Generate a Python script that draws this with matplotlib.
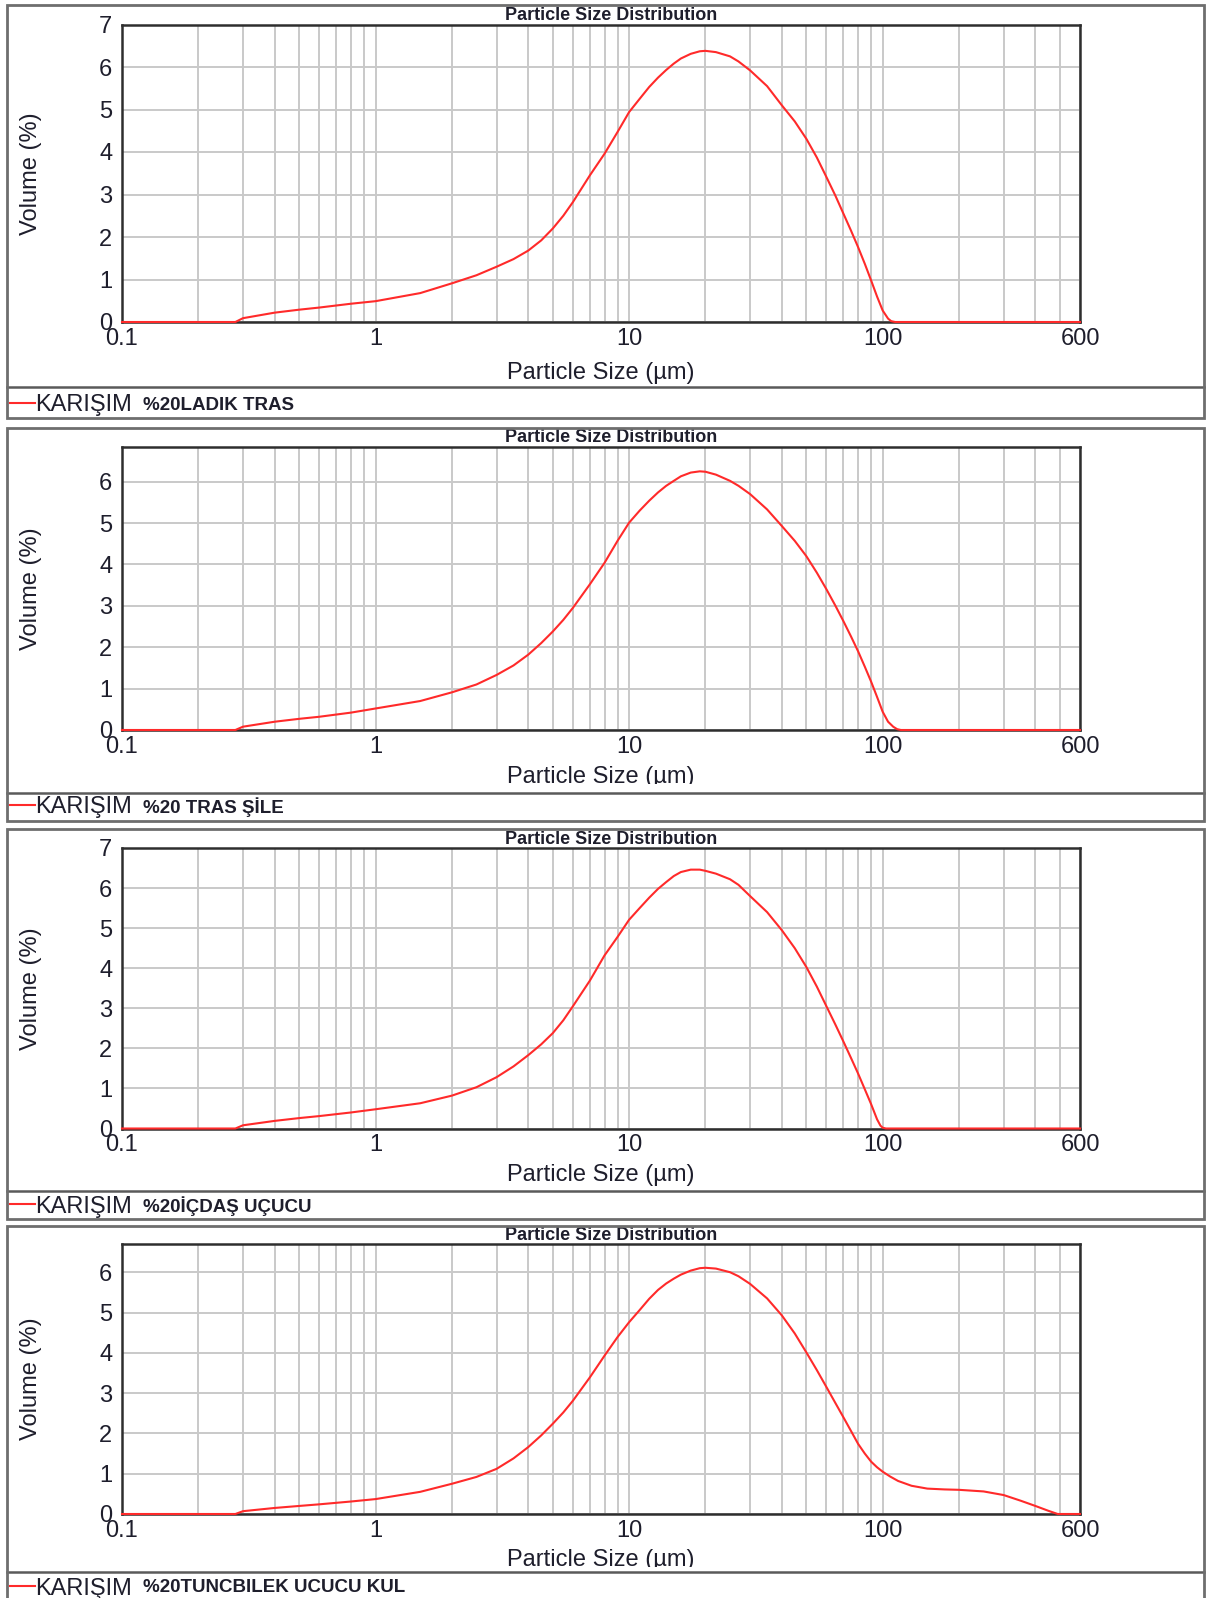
import matplotlib

matplotlib.use("Agg")
import matplotlib.pyplot as plt
from matplotlib.lines import Line2D
from matplotlib.patches import Rectangle
from matplotlib.ticker import FixedLocator, LogLocator, NullFormatter


SIZES_1 = [0.1, 0.28, 0.3, 0.4, 0.5, 0.6, 0.8, 1, 1.5, 2, 2.5, 3, 3.5, 4, 4.5, 5, 5.5, 6,
           7, 8, 9, 10, 11, 12, 13, 14, 15, 16, 17.5, 19, 20, 22, 25, 27, 30, 35, 40, 45,
           50, 55, 60, 65, 70, 75, 80, 85, 90, 95, 100, 105, 108, 112, 600]
VOL_1 = [0, 0, 0.09, 0.22, 0.29, 0.34, 0.43, 0.49, 0.68, 0.91, 1.1, 1.3, 1.48, 1.68, 1.92,
         2.2, 2.5, 2.82, 3.45, 3.96, 4.47, 4.94, 5.25, 5.53, 5.75, 5.93, 6.08, 6.2, 6.31,
         6.37, 6.38, 6.35, 6.25, 6.13, 5.92, 5.55, 5.1, 4.72, 4.31, 3.87, 3.41, 2.98, 2.55,
         2.15, 1.76, 1.37, 0.98, 0.6, 0.27, 0.08, 0.02, 0, 0]

SIZES_2 = [0.1, 0.28, 0.3, 0.4, 0.5, 0.6, 0.8, 1, 1.5, 2, 2.5, 3, 3.5, 4, 4.5, 5, 5.5, 6,
           7, 8, 9, 10, 11, 12, 13, 14, 15, 16, 17.5, 19, 20, 22, 25, 27, 30, 35, 40, 45,
           50, 55, 60, 65, 70, 75, 80, 85, 90, 95, 100, 105, 110, 114, 118, 600]
VOL_2 = [0, 0, 0.08, 0.2, 0.27, 0.32, 0.42, 0.52, 0.7, 0.91, 1.1, 1.33, 1.56, 1.82, 2.1,
         2.38, 2.66, 2.95, 3.52, 4.04, 4.57, 5.01, 5.3, 5.54, 5.74, 5.9, 6.02, 6.13, 6.22,
         6.25, 6.24, 6.17, 6.02, 5.9, 5.7, 5.33, 4.93, 4.57, 4.2, 3.8, 3.4, 3.01, 2.63,
         2.26, 1.9, 1.53, 1.17, 0.8, 0.44, 0.2, 0.08, 0.02, 0, 0]

SIZES_3 = [0.1, 0.28, 0.3, 0.4, 0.5, 0.6, 0.8, 1, 1.5, 2, 2.5, 3, 3.5, 4, 4.5, 5, 5.5, 6,
           7, 8, 9, 10, 11, 12, 13, 14, 15, 16, 17.5, 19, 20, 22, 25, 27, 30, 35, 40, 45,
           50, 55, 60, 65, 70, 75, 80, 85, 90, 95, 98, 100, 103, 600]
VOL_3 = [0, 0, 0.08, 0.19, 0.26, 0.31, 0.4, 0.48, 0.63, 0.82, 1.03, 1.28, 1.55, 1.83, 2.1,
         2.38, 2.7, 3.05, 3.69, 4.32, 4.78, 5.21, 5.5, 5.76, 5.98, 6.15, 6.3, 6.4, 6.46,
         6.46, 6.43, 6.36, 6.22, 6.08, 5.8, 5.4, 4.95, 4.5, 4.03, 3.54, 3.05, 2.6, 2.17,
         1.76, 1.37, 0.98, 0.61, 0.23, 0.07, 0.02, 0, 0]

SIZES_4 = [0.1, 0.28, 0.3, 0.4, 0.5, 0.6, 0.8, 1, 1.5, 2, 2.5, 3, 3.5, 4, 4.5, 5, 5.5, 6,
           7, 8, 9, 10, 11, 12, 13, 14, 15, 16, 17.5, 19, 20, 22, 25, 27, 30, 35, 40, 45,
           50, 55, 60, 65, 70, 75, 80, 85, 90, 95, 100, 107, 115, 130, 150, 175, 200, 250,
           300, 350, 400, 450, 490, 600]
VOL_4 = [0, 0, 0.07, 0.15, 0.2, 0.24, 0.31, 0.37, 0.55, 0.75, 0.92, 1.12, 1.38, 1.66, 1.95,
         2.24, 2.52, 2.81, 3.39, 3.93, 4.39, 4.76, 5.06, 5.34, 5.56, 5.72, 5.84, 5.94, 6.04,
         6.1, 6.11, 6.09, 6.0, 5.9, 5.71, 5.35, 4.93, 4.48, 4.01, 3.57, 3.15, 2.76, 2.4,
         2.06, 1.74, 1.5, 1.3, 1.16, 1.05, 0.93, 0.82, 0.7, 0.63, 0.61, 0.6, 0.56, 0.47,
         0.33, 0.2, 0.08, 0, 0]

SAMPLE_NAMES = ["%20LADIK TRAS", "%20 TRAS ŞİLE", "%20İÇDAŞ UÇUCU", "%20TUNCBILEK UCUCU KUL"]
Y_MAX = [7, 6.85, 7, 6.7]

X_TICKS = [0.1, 1, 10, 100, 600]
X_TICK_LABELS = ["0.1", "1", "10", "100", "600"]

W, H = 1206, 1598

# pixel layout of each report block
PANELS = [
    dict(top=5, sep=387, bottom=418, ptop=24.5, pbot=322, title=16, xlab=373, clip=None, leg=403),
    dict(top=428, sep=793, bottom=821, ptop=446.5, pbot=730, title=438, xlab=777, clip=784, leg=805),
    dict(top=829, sep=1191, bottom=1219, ptop=848, pbot=1128.5, title=840, xlab=1175, clip=None, leg=1204),
    dict(top=1226, sep=1572, bottom=1600, ptop=1244, pbot=1514, title=1235.5, xlab=1560, clip=1567, leg=1586),
]
PLOT_LEFT, PLOT_RIGHT = 122, 1080
FRAME_LEFT, FRAME_RIGHT = 7, 1204

TEXT_COLOR = "#1e1e2c"
CURVE_COLOR = "#ff2a2a"


def fx(px):
    return px / W


def fy(py):
    return 1 - py / H


def draw_panel(fig, p, sizes, vols, name, ymax):
    # outer frame and legend strip
    fig.patches.append(Rectangle((fx(FRAME_LEFT), fy(p["bottom"])),
                                 fx(FRAME_RIGHT - FRAME_LEFT), (p["bottom"] - p["top"]) / H,
                                 transform=fig.transFigure, fill=False,
                                 edgecolor="#6e6e6e", linewidth=2, zorder=6))
    fig.lines.append(Line2D([fx(FRAME_LEFT), fx(FRAME_RIGHT)], [fy(p["sep"])] * 2,
                            transform=fig.transFigure, color="#5a5a5a", linewidth=1.8,
                            zorder=6))

    ax = fig.add_axes([fx(PLOT_LEFT), fy(p["pbot"]), fx(PLOT_RIGHT - PLOT_LEFT),
                       (p["pbot"] - p["ptop"]) / H])
    ax.plot(sizes, vols, color=CURVE_COLOR, linewidth=1.5, zorder=3, clip_on=False)
    ax.set_xscale("log")
    ax.set_xlim(0.1, 600)
    ax.set_ylim(0, ymax)

    ax.xaxis.set_major_locator(FixedLocator(X_TICKS))
    ax.set_xticklabels(X_TICK_LABELS)
    ax.xaxis.set_minor_locator(LogLocator(base=10, subs=range(2, 10), numticks=20))
    ax.xaxis.set_minor_formatter(NullFormatter())
    ax.set_yticks(range(0, int(ymax) + 1))
    ax.tick_params(axis="both", which="both", length=0, labelsize=17, colors=TEXT_COLOR)
    ax.tick_params(axis="x", pad=4)
    ax.tick_params(axis="y", pad=7)
    for lbl in ax.get_yticklabels():
        lbl.set_verticalalignment("center_baseline")

    ax.grid(True, which="both", axis="x", color="#c9c9c9", linewidth=1.4)
    ax.grid(True, which="major", axis="y", color="#c9c9c9", linewidth=1.4)
    ax.set_axisbelow(True)
    for sp in ax.spines.values():
        sp.set_color("#2e2e2e")
        sp.set_linewidth(1.8)

    fig.text(fx(611), fy(p["title"]), "Particle Size Distribution", ha="center", va="center",
             fontsize=13, fontweight="bold", color=TEXT_COLOR)
    fig.text(fx(31), fy((p["ptop"] + p["pbot"]) / 2), "Volume (%)", rotation=90,
             ha="center", va="center", fontsize=17, color=TEXT_COLOR)
    fig.text(fx(601), fy(p["xlab"]), "Particle Size (µm)", ha="center", va="center",
             fontsize=17, color=TEXT_COLOR, zorder=3)
    if p["clip"] is not None:
        # the report image cuts off the bottom of the axis title
        fig.patches.append(Rectangle((fx(FRAME_LEFT + 2), fy(p["sep"])),
                                     fx(FRAME_RIGHT - FRAME_LEFT - 4),
                                     (p["sep"] - p["clip"]) / H,
                                     transform=fig.transFigure, facecolor="white",
                                     edgecolor="none", zorder=5))

    # legend strip
    fig.lines.append(Line2D([fx(10), fx(35)], [fy(p["leg"])] * 2, transform=fig.transFigure,
                            color=CURVE_COLOR, linewidth=1.5, zorder=7))
    fig.text(fx(35), fy(p["leg"]), "KARIŞIM", ha="left", va="center_baseline", fontsize=17,
             color=TEXT_COLOR, zorder=7)
    fig.text(fx(143), fy(p["leg"]), name, ha="left", va="center_baseline", fontsize=13.5,
             fontweight="bold", color=TEXT_COLOR, zorder=7)
    return ax


def main():
    plt.rcParams["font.family"] = ["Liberation Sans", "DejaVu Sans"]
    fig = plt.figure(figsize=(W / 100, H / 100), dpi=100)
    fig.patch.set_facecolor("white")

    series = [(SIZES_1, VOL_1), (SIZES_2, VOL_2), (SIZES_3, VOL_3), (SIZES_4, VOL_4)]
    for p, (sizes, vols), name, ymax in zip(PANELS, series, SAMPLE_NAMES, Y_MAX):
        draw_panel(fig, p, sizes, vols, name, ymax)

    fig.savefig("out.png", dpi=100)


if __name__ == "__main__":
    main()
